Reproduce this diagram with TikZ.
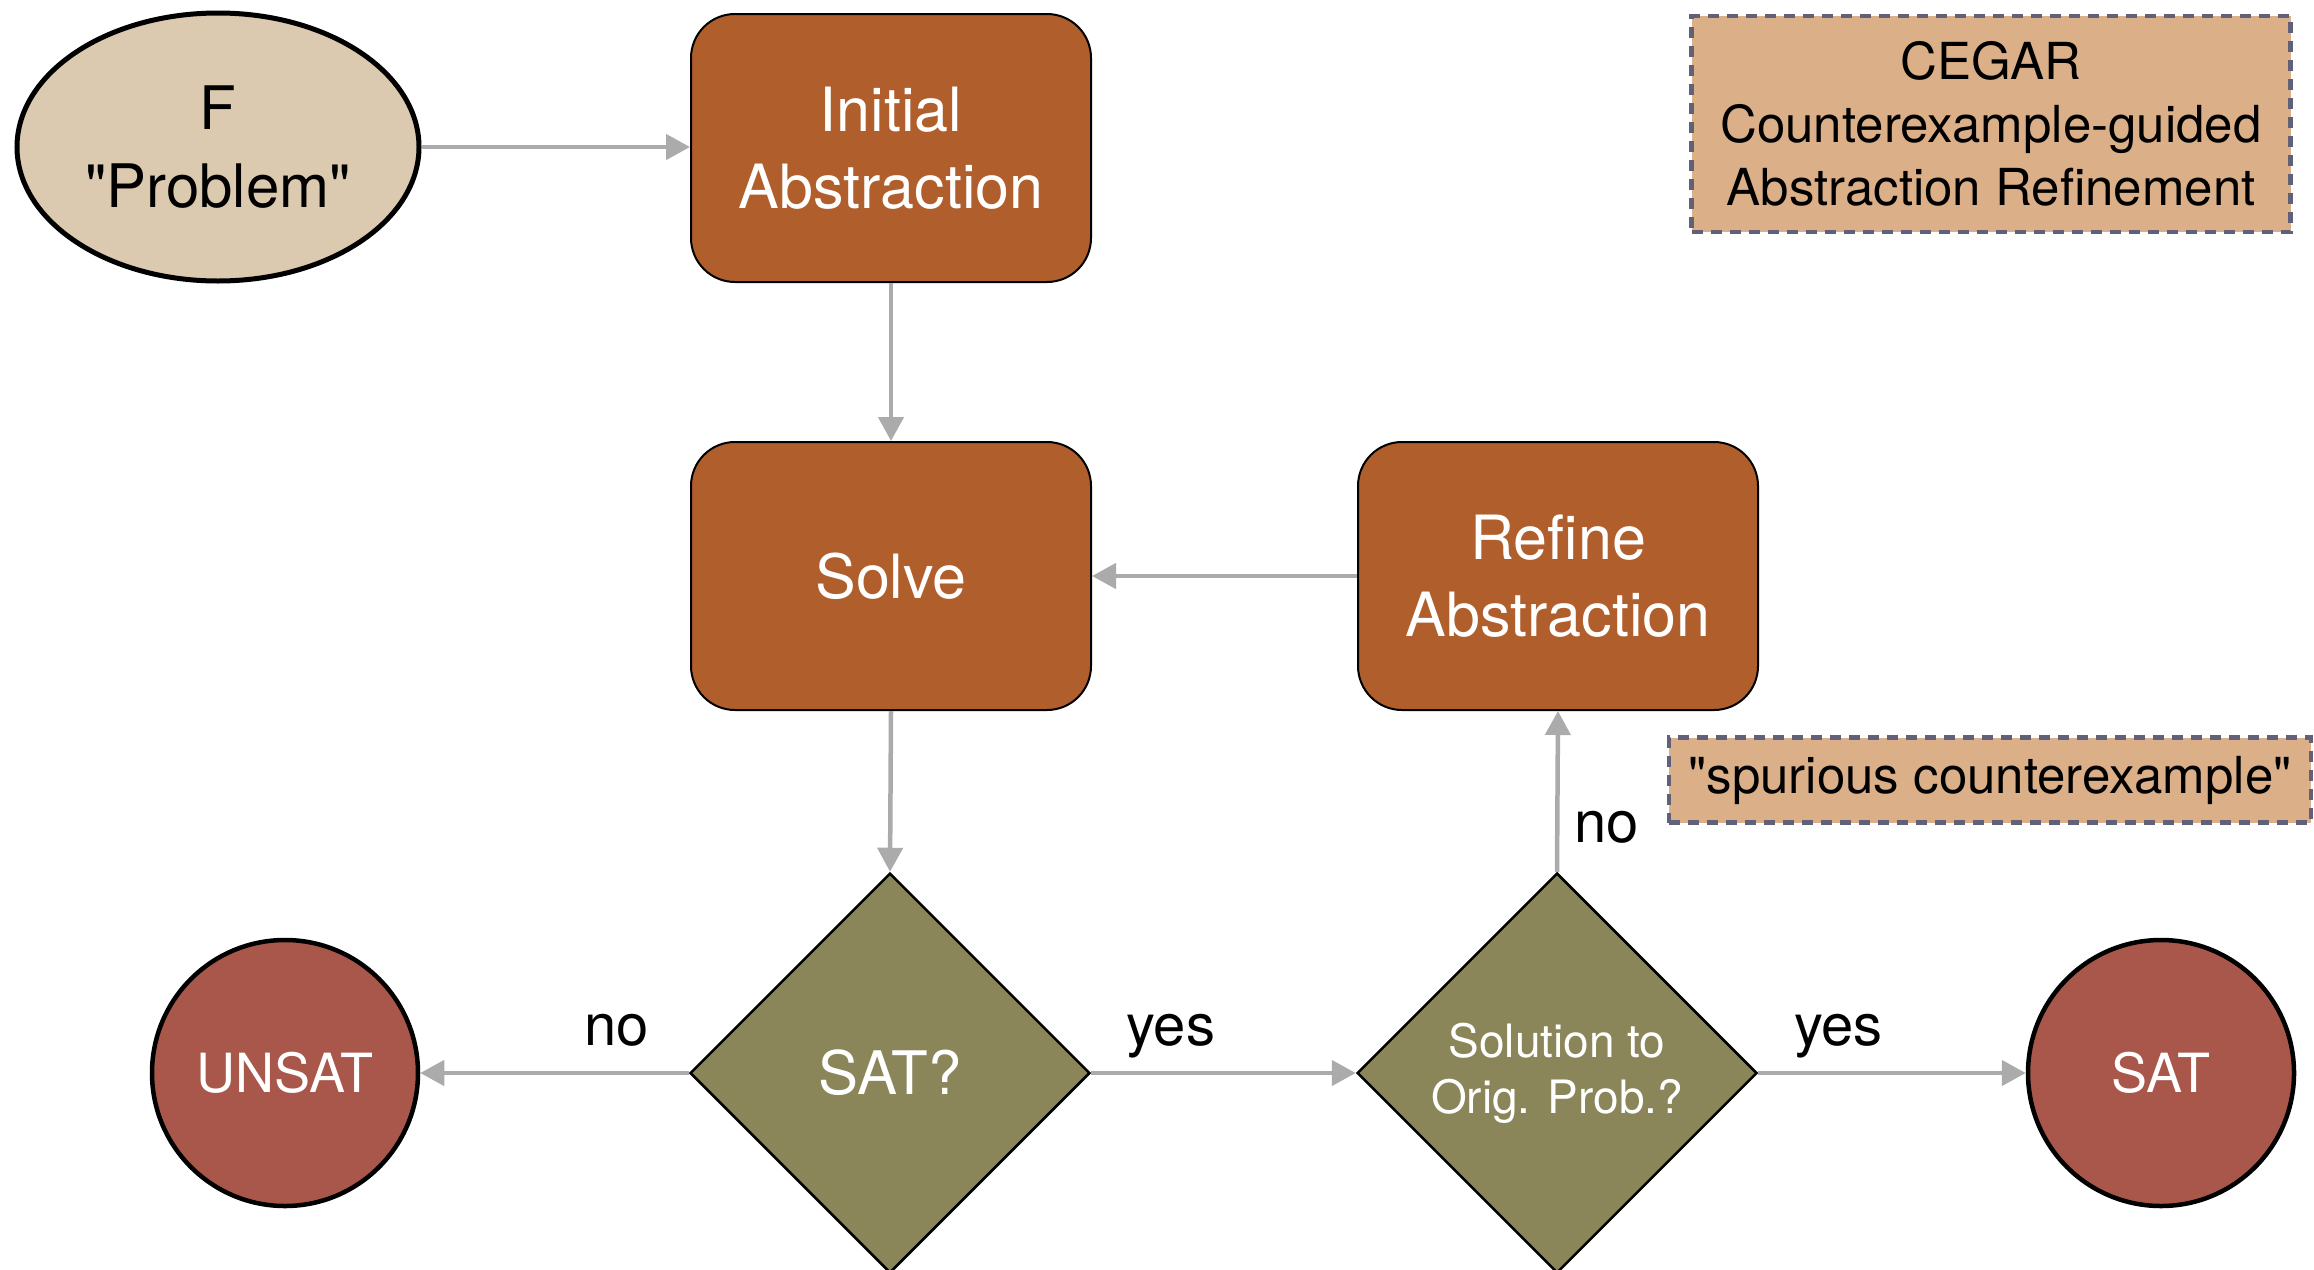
\documentclass[tikz,border=0pt]{standalone}
\usepackage{fontspec}
\setmainfont{TeX Gyre Heros}[Ligatures=TeXOff]
\usetikzlibrary{shapes.geometric,arrows.meta}
\definecolor{tan}{HTML}{DBCAB0}
\definecolor{boxbrown}{HTML}{B05E2B}
\definecolor{olive}{HTML}{8A8659}
\definecolor{endred}{HTML}{A8574A}
\definecolor{notefill}{HTML}{DBAF88}
\definecolor{notedash}{HTML}{606178}
\definecolor{arrowgray}{HTML}{ABABAB}
\begin{document}
\begin{tikzpicture}[x=1pt,y=-1pt,
  stepbox/.style={draw=black, line width=2pt, fill=boxbrown, rounded corners=44pt,
    minimum width=400pt, minimum height=268pt, inner sep=0pt, text=white, align=center,
    font=\fontsize{61}{77}\selectfont},
  decision/.style={diamond, aspect=1, draw=black, line width=2.5pt, fill=olive,
    minimum width=400pt, minimum height=400pt, inner sep=0pt, text=white, align=center},
  terminal/.style={circle, draw=black, line width=4.5pt, fill=endred, minimum size=266pt,
    inner sep=0pt, text=white, font=\fontsize{54}{60}\selectfont},
  note/.style={draw=notedash, line width=4.5pt, dash pattern=on 11pt off 8pt, fill=notefill,
    inner sep=0pt, align=center, font=\fontsize{51}{63}\selectfont},
  arr/.style={draw=arrowgray, line width=4.5pt, -{Triangle[length=24pt,width=25pt]}},
  lbl/.style={font=\fontsize{58}{60}\selectfont, inner sep=0pt},
]
\clip (0,0) rectangle (2314,1269);
\fill[white] (0,0) rectangle (2314,1269);

\node[ellipse, draw=black, line width=5pt, fill=tan, minimum width=402pt, minimum height=268pt,
  inner sep=0pt, align=center, font=\fontsize{60}{78}\selectfont] (F) at (218,147) {F\\"Problem"};

\node[stepbox] (init) at (891,148) {Initial\\Abstraction};
\node[stepbox] (solve) at (891,576) {Solve};
\node[stepbox] (refine) at (1558,576) {Refine\\Abstraction};

\node[decision, font=\fontsize{60}{60}\selectfont] (satq) at (890,1073) {SAT?};
\node[decision, font=\fontsize{46}{56}\selectfont] (sol) at (1557,1073) {Solution to\\Orig. Prob.?};

\node[terminal] (unsat) at (285,1073) {UNSAT};
\node[terminal] (sat) at (2161,1073) {SAT};

\node[note, minimum width=599pt, minimum height=216pt] (cegar) at (1991,124)
  {CEGAR\\Counterexample-guided\\Abstraction Refinement};
\node[note, minimum width=642pt, minimum height=85pt] (spur) at (1990,780)
  {"spurious counterexample"};

\draw[arr] (F.east) -- (F.east -| init.west);
\draw[arr] (init.south) -- (solve.north);
\draw[arr] (refine.west) -- (solve.east);
\draw[arr] (solve.south) -- (satq.north);
\draw[arr] (satq.west) -- node[lbl, pos=0.27, anchor=base, yshift=28pt] (lno) {no} (unsat.east);
\draw[arr] (satq.east) -- node[lbl, pos=0.30, anchor=base, yshift=28pt] (lyes) {yes} (sol.west);
\draw[arr] (sol.north) -- node[lbl, pos=0.18, anchor=base west, xshift=15pt] (lno2) {no} (refine.south);
\draw[arr] (sol.east) -- node[lbl, pos=0.30, anchor=base, yshift=28pt] (lyes2) {yes} (sat.west);
\end{tikzpicture}
\end{document}
